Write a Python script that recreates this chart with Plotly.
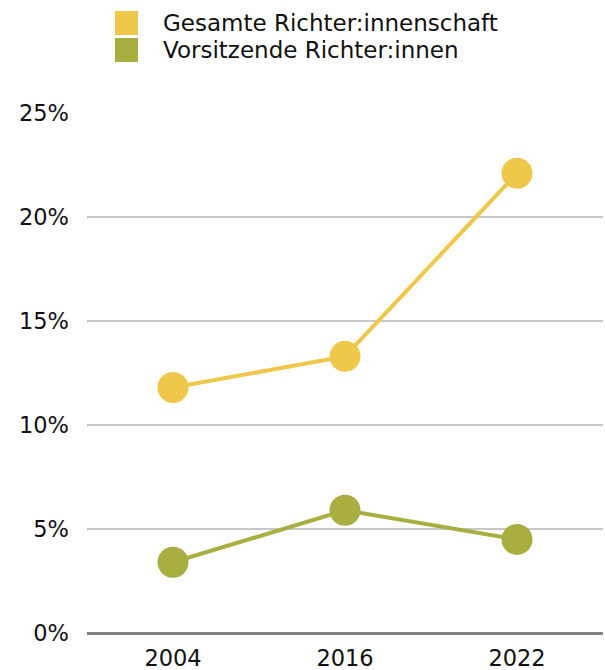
import plotly.graph_objects as go

years = ["2004", "2016", "2022"]
gesamt = [11.8, 13.3, 22.1]
vorsitz = [3.4, 5.9, 4.5]
series_names = ["Gesamte Richter:innenschaft", "Vorsitzende Richter:innen"]
colors = ["#EFC84B", "#A8AE3F"]
y_ticks = [0, 5, 10, 15, 20, 25]
y_ticktext = [f"{v}%" for v in y_ticks]

FONT = "DejaVu Sans"

fig = go.Figure()
for name, vals, col in zip(series_names, [gesamt, vorsitz], colors):
    fig.add_trace(go.Scatter(
        x=years, y=vals, name=name, mode="lines+markers",
        line=dict(color=col, width=4),
        marker=dict(color=col, size=31),
        cliponaxis=False, showlegend=False,
    ))

# custom legend: big squares + text
for i, (name, col) in enumerate(zip(series_names, colors)):
    yc = 23 + i * 27  # pixel from top
    fig.add_shape(type="rect", xref="paper", yref="paper",
                  xsizemode="pixel", ysizemode="pixel",
                  xanchor=(115 - 87) / 516, yanchor=1 + (113 - yc) / 520,
                  x0=0, x1=23, y0=-12, y1=12,
                  fillcolor=col, line=dict(width=0))
    fig.add_annotation(text=name, xref="paper", yref="paper",
                       x=(161 - 87) / 516, y=1 + (113 - yc) / 520,
                       xanchor="left", yanchor="middle", showarrow=False,
                       font=dict(family=FONT, size=23, color="#111111"))

fig.update_layout(
    width=605, height=670,
    margin=dict(l=87, r=2, t=113, b=37),
    paper_bgcolor="white", plot_bgcolor="white",
    font=dict(family=FONT, size=22.5, color="#111111"),
    xaxis=dict(type="category", range=[-0.5, 2.5], automargin=False,
               showgrid=False, showline=False, zeroline=False,
               ticks="", ticklabelstandoff=9, tickfont=dict(size=22.5)),
    yaxis=dict(range=[0, 25], tickvals=y_ticks, ticktext=y_ticktext,
               automargin=False,
               showgrid=True, gridcolor="#C8C8C8", gridwidth=2,
               zeroline=True, zerolinecolor="#808080", zerolinewidth=3,
               showline=False, ticks="", ticklabelstandoff=17,
               tickfont=dict(size=22.5)),
)

fig.write_html(
    "out.html",
    config={"displayModeBar": False},
    post_script="document.body.style.margin='0';document.body.style.overflow='hidden';",
)
